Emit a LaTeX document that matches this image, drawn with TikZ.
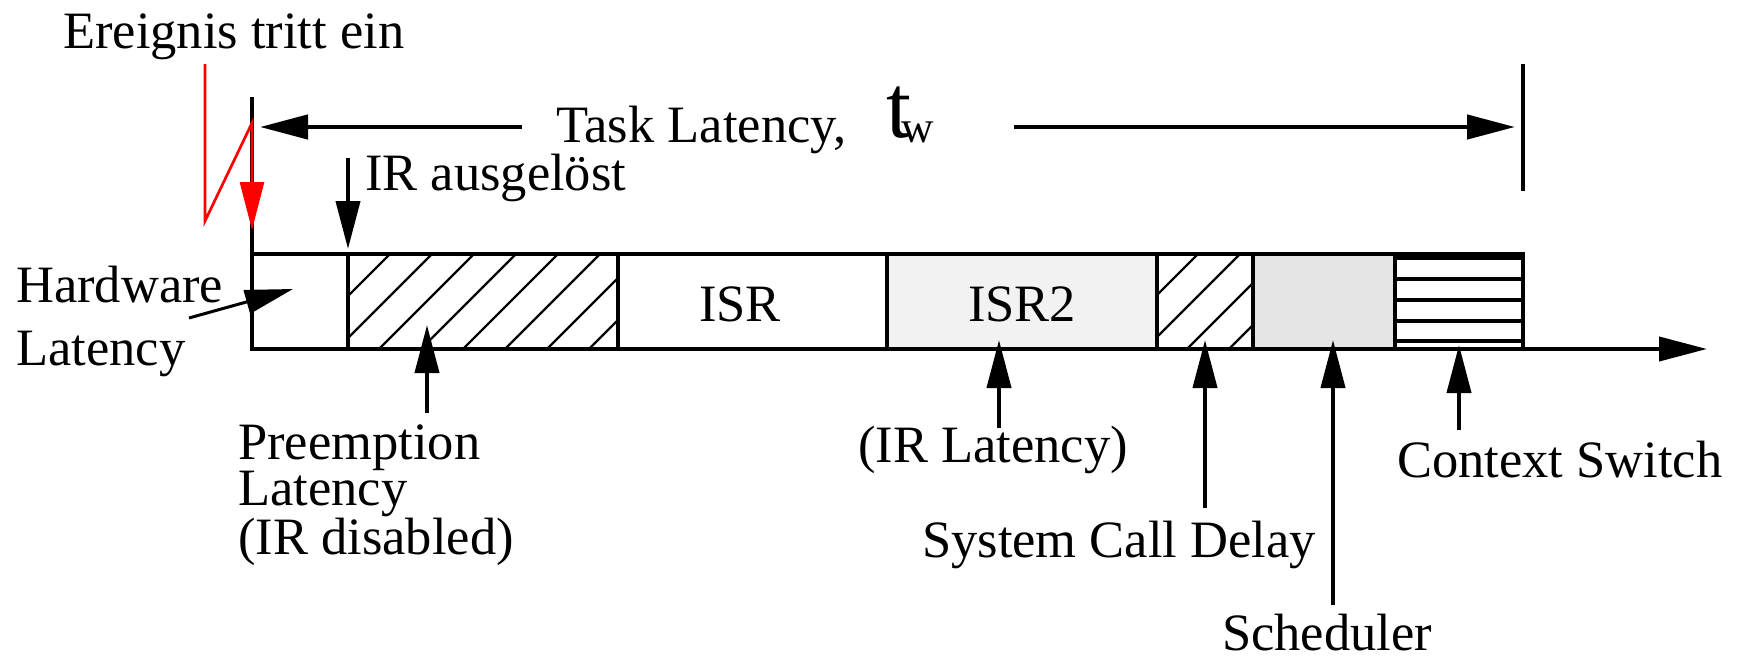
\documentclass[tikz,border=0pt]{standalone}
\usepackage{fontspec}
\setmainfont{Liberation Serif}
\usetikzlibrary{arrows.meta}

\definecolor{isrgray}{HTML}{F2F2F2}
\definecolor{schedgray}{HTML}{E5E5E5}

\begin{document}
\begin{tikzpicture}[x=1pt,y=-1pt,
  lbl/.style={anchor=base west, inner sep=0pt, font=\fontsize{52.5}{63}\selectfont},
  multi/.style={anchor=north west, inner sep=0pt, align=left},
  seg/.style={draw, line width=4pt, anchor=north west, inner sep=0pt,
              outer sep=0pt, minimum height=95pt},
  arr/.style={line width=4pt, -{Triangle[length=48pt,width=24pt]}},
  hatch/.style={line width=2.2pt},
  stripe/.style={line width=4.5pt},
]
\useasboundingbox (0,0) rectangle (1743,656);

% ---- time segments along the axis
\node[seg, minimum width=96pt]                   (hw)    at (252,254)  {};
\node[seg, minimum width=270pt]                  (pre)   at (348,254)  {};
\node[seg, minimum width=269pt]                  (isr)   at (618,254)  {};
\node[seg, minimum width=270pt, fill=isrgray]    (isrb)  at (887,254)  {};
\node[seg, minimum width=96pt]                   (sys)   at (1157,254) {};
\node[seg, minimum width=142pt, fill=schedgray]  (sched) at (1253,254) {};
\node[seg, minimum width=128pt]                  (ctx)   at (1395,254) {};

% hatching of the preemption and system call segments
\begin{scope}
  \clip (348,254) rectangle (618,349);
  \foreach \k in {-1,...,8}
    \draw[hatch] ({390+42*\k},254) -- ({295+42*\k},349);
\end{scope}
\begin{scope}
  \clip (1157,254) rectangle (1253,349);
  \foreach \k in {-1,...,3}
    \draw[hatch] ({1198+42*\k},254) -- ({1103+42*\k},349);
\end{scope}

% horizontal stripes of the context switch segment
\foreach \y in {258,279,300,321,341}
  \draw[stripe] (1395,\y) -- (1523,\y);

% ---- time axis
\coordinate (axisStart) at (252,349);
\coordinate (axisEnd)   at (1707,349);
\draw[arr] (axisStart) -- (axisEnd);

% ---- task latency span
\coordinate (spanLTop) at (252,97);
\coordinate (spanLBot) at (252,254);
\coordinate (spanRTop) at (1523,64);
\coordinate (spanRBot) at (1523,191);
\draw[line width=4pt] (spanLTop) -- (spanLBot);
\draw[line width=3.5pt] (spanRTop) -- (spanRBot);

\node[lbl] (tl) at (556,142) {Task Latency,};
\node[anchor=base west, inner sep=0pt] (tw) at (886,137)
  {{\fontsize{90}{90}\selectfont t}\kern-10pt\raisebox{-5pt}{\fontsize{45}{45}\selectfont w}};

\coordinate (tlLeftTail)  at (522,127);
\coordinate (tlLeftTip)   at (260,127);
\coordinate (tlRightTail) at (1014,127);
\coordinate (tlRightTip)  at (1515,127);
\draw[arr, line width=4.5pt] (tlLeftTail) -- (tlLeftTip);
\draw[arr, line width=4.5pt] (tlRightTail) -- (tlRightTip);

% ---- event (red lightning)
\node[lbl] (ev) at (63,48) {Ereignis tritt ein};
\coordinate (boltA) at (205,64);
\coordinate (boltB) at (205,221);
\coordinate (boltC) at (252,123);
\coordinate (boltD) at (252,230);
\draw[red, line width=2.7pt, -{Triangle[length=48pt,width=24pt]}]
  (boltA) -- (boltB) -- (boltC) -- (boltD);

% ---- interrupt raised
\node[lbl] (irs) at (365,190) {IR ausgelöst};
\coordinate (irTail) at (348,158);
\coordinate (irTip)  at (348,249);
\draw[arr] (irTail) -- (irTip);

% ---- hardware latency
\node[multi, font=\fontsize{52.5}{63}\selectfont] (hwT) at (16,266) {Hardware\\Latency};
\coordinate (hwTail) at (189,318);
\coordinate (hwTip)  at (293,289);
\draw[arr, line width=3pt] (hwTail) -- (hwTip);

% ---- segment captions
\node[lbl] (isrT)  at (699,321) {ISR};
\node[lbl] (isrbT) at (968,321) {ISR2};

% ---- labels below the axis
\node[multi, font=\fontsize{52.5}{46}\selectfont] (preT) at (238,425)
  {Preemption\\Latency\\(IR disabled)};
\node[lbl] (irl)  at (858,462) {(IR Latency)};
\node[lbl] (scd)  at (922,557) {System Call Delay};
\node[lbl] (schT) at (1222,650) {Scheduler};
\node[lbl] (ctxT) at (1397,477) {Context Switch};

\coordinate (preTail)  at (427,413);  \coordinate (preTip)  at (427,325);
\coordinate (irlTail)  at (999,428);  \coordinate (irlTip)  at (999,340);
\coordinate (scdTail)  at (1205,508); \coordinate (scdTip)  at (1205,340);
\coordinate (schTail)  at (1333,605); \coordinate (schTip)  at (1333,340);
\coordinate (ctxTail)  at (1459,430); \coordinate (ctxTip)  at (1459,345);

\draw[arr] (preTail) -- (preTip);
\draw[arr] (irlTail) -- (irlTip);
\draw[arr] (scdTail) -- (scdTip);
\draw[arr] (schTail) -- (schTip);
\draw[arr] (ctxTail) -- (ctxTip);
\end{tikzpicture}
\end{document}
